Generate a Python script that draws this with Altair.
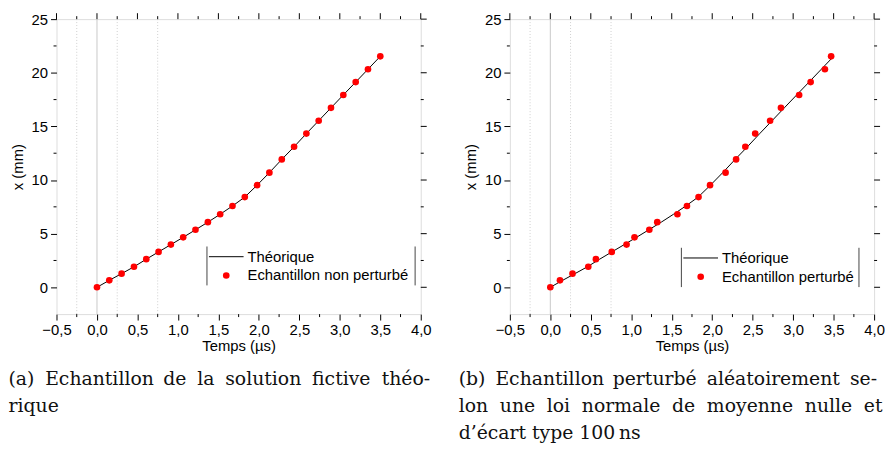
import altair as alt
import pandas as pd

# ---------------- data ----------------
t_theo = [0.000, 0.152, 0.304, 0.457, 0.609, 0.761, 0.913, 1.065, 1.217, 1.370,
          1.522, 1.674, 1.826, 1.978, 2.130, 2.283, 2.435, 2.587, 2.739, 2.891,
          3.043, 3.196, 3.348, 3.500]
x_theo = [0.00, 0.65, 1.27, 1.91, 2.62, 3.30, 3.98, 4.66, 5.36, 6.07,
          6.81, 7.58, 8.41, 9.52, 10.69, 11.92, 13.10, 14.33, 15.53, 16.73,
          17.93, 19.13, 20.33, 21.53]
t_pert = [0.000, 0.119, 0.274, 0.469, 0.563, 0.759, 0.942, 1.040, 1.223, 1.321,
          1.570, 1.688, 1.831, 1.973, 2.165, 2.295, 2.409, 2.531, 2.715, 2.849,
          3.074, 3.216, 3.392, 3.469]

x_major = [-0.5, 0.0, 0.5, 1.0, 1.5, 2.0, 2.5, 3.0, 3.5, 4.0]
x_minor = [-0.25, 0.25, 0.75, 1.25, 1.75, 2.25, 2.75, 3.25, 3.75]
y_major = [0, 5, 10, 15, 20, 25]
y_minor = [2.5, 7.5, 12.5, 17.5, 22.5]
grid_solid = [0.0]
grid_dotted = [-0.25, 0.25, 0.75]

legend_line = "Théorique"
legend_a = "Echantillon non perturbé"
legend_b = "Echantillon perturbé"
caption_a = ["(a) Echantillon de la solution fictive théo-", "rique"]
caption_b = ["(b) Echantillon perturbé aléatoirement se-",
             "lon une loi normale de moyenne nulle et",
             "d’écart type 100\u2009ns"]

W, H = 368, 298
SANS = "Liberation Sans"
SERIF = "DejaVu Serif"
FS = 15
CAP_FS = 19

# approximate DejaVu Serif advance widths (em) used to justify the caption lines
CW = {" ": .318, "(": .390, ")": .390, "a": .596, "b": .640, "c": .560, "d": .640, "e": .592,
      "é": .592, "f": .370, "h": .644, "i": .320, "l": .320, "m": .948, "n": .644, "o": .602,
      "p": .640, "r": .478, "s": .513, "t": .402, "u": .644, "v": .565, "y": .565, "E": .654,
      "-": .338}


def word_w(w):
    return sum(CW.get(c, .6) for c in w) * CAP_FS


def justify(line, x0, x1):
    words = line.split(" ")
    if len(words) == 1:
        return [(line, x0)]
    widths = [word_w(w) for w in words]
    gap = (x1 - x0 - sum(widths)) / (len(words) - 1)
    out, x = [], x0
    for w, wd in zip(words, widths):
        out.append((w, x))
        x += wd + gap
    return out


xscale = alt.Scale(domain=[-0.5, 4.0], nice=False, zero=False)
yscale = alt.Scale(domain=[-2.5, 25], nice=False, zero=False)
xaxis = alt.Axis(values=x_major, labelExpr="replace(format(datum.value, '.1f'), '.', ',')",
                 title="Temps (µs)", grid=False, domain=False, tickSize=6, tickColor="black",
                 labelFont=SANS, labelFontSize=FS, labelColor="black", labelPadding=3,
                 titleFont=SANS, titleFontSize=FS, titleFontWeight="normal", titleColor="black",
                 titlePadding=1, labelFlush=False, labelOverlap=False)
yaxis = alt.Axis(values=y_major, format="d", title="x (mm)", grid=False, domain=False,
                 tickSize=6, tickColor="black",
                 labelFont=SANS, labelFontSize=FS, labelColor="black", labelPadding=3,
                 titleFont=SANS, titleFontSize=FS, titleFontWeight="normal", titleColor="black",
                 titlePadding=6, labelFlush=False, labelOverlap=False)


def X(f):
    return alt.X(f, type="quantitative", scale=xscale, axis=xaxis)


def Y(f):
    return alt.Y(f, type="quantitative", scale=yscale, axis=yaxis)


one = pd.DataFrame({"k": [0]})


def panel(t_pts, legend_text, leg, captions, cap_x0, cap_x1):
    theo = pd.DataFrame({"t": t_theo, "x": x_theo})
    pts = pd.DataFrame({"t": t_pts, "x": x_theo})
    gs = pd.DataFrame({"g": grid_solid})
    gd = pd.DataFrame({"g": grid_dotted})
    xm = pd.DataFrame({"v": x_major})
    xn = pd.DataFrame({"v": x_minor})
    ym = pd.DataFrame({"v": y_major})
    yn = pd.DataFrame({"v": y_minor})

    layers = [
        alt.Chart(gs).mark_rule(color="#c8c8c8", strokeWidth=1).encode(x=X("g")),
        alt.Chart(gd).mark_rule(color="#cfcfcf", strokeWidth=1, strokeDash=[1, 2]).encode(x=X("g")),
        # minor ticks bottom / top, major top
        alt.Chart(xn).mark_rule(color="black").encode(x=X("v"), y=alt.value(H), y2=alt.value(H + 3)),
        alt.Chart(xn).mark_rule(color="black").encode(x=X("v"), y=alt.value(0), y2=alt.value(-3)),
        alt.Chart(xm).mark_rule(color="black").encode(x=X("v"), y=alt.value(0), y2=alt.value(-6)),
        # minor ticks left / right, major right
        alt.Chart(yn).mark_rule(color="black").encode(y=Y("v"), x=alt.value(0), x2=alt.value(-3)),
        alt.Chart(yn).mark_rule(color="black").encode(y=Y("v"), x=alt.value(W), x2=alt.value(W + 3)),
        alt.Chart(ym).mark_rule(color="black").encode(y=Y("v"), x=alt.value(W), x2=alt.value(W + 6)),
        # data
        alt.Chart(theo).mark_line(color="black", strokeWidth=1).encode(x=X("t"), y=Y("x")),
        alt.Chart(pts).mark_point(filled=True, color="#ff0000", opacity=1, size=45).encode(x=X("t"), y=Y("x")),
        # legend
        alt.Chart(one).mark_rule(color="#444", strokeWidth=1).encode(
            x=alt.value(leg["l"]), y=alt.value(leg["top"]), y2=alt.value(leg["bot"])),
        alt.Chart(one).mark_rule(color="#444", strokeWidth=1).encode(
            x=alt.value(leg["r"]), y=alt.value(leg["top"]), y2=alt.value(leg["bot"])),
        alt.Chart(one).mark_rule(color="black", strokeWidth=1).encode(
            x=alt.value(leg["l"] + 2), x2=alt.value(leg["l"] + 37), y=alt.value(leg["y1"])),
        alt.Chart(one).mark_point(filled=True, color="#ff0000", opacity=1, size=45).encode(
            x=alt.value(leg["l"] + 19.5), y=alt.value(leg["y2"])),
        alt.Chart(one).mark_text(align="left", baseline="middle", font=SANS, fontSize=FS, color="black").encode(
            x=alt.value(leg["l"] + 41), y=alt.value(leg["y1"]), text=alt.value(legend_line)),
        alt.Chart(one).mark_text(align="left", baseline="middle", font=SANS, fontSize=FS, color="black").encode(
            x=alt.value(leg["l"] + 41), y=alt.value(leg["y2"]), text=alt.value(legend_text)),
    ]
    base_y = 369.7
    n = len(captions)
    for i, line in enumerate(captions):
        if i < n - 1:
            placed = justify(line, cap_x0, cap_x1[i])
        else:
            placed = [(line, cap_x0)]
        for w, xp in placed:
            layers.append(
                alt.Chart(one).mark_text(align="left", baseline="alphabetic", font=SERIF, fontSize=CAP_FS,
                                         color="#111").encode(
                    x=alt.value(xp), y=alt.value(base_y + 27.3 * i), text=alt.value(w)))
    return alt.layer(*layers).properties(width=W, height=H)


pa = panel(t_theo, legend_a, {"l": 152, "r": 362.3, "top": 229.7, "bot": 269, "y1": 240, "y2": 259},
           caption_a, -48.5, [377.5])
pb = panel(t_pert, legend_b, {"l": 173.3, "r": 352.7, "top": 231, "bot": 270.7, "y1": 241.3, "y2": 260.3},
           caption_b, -51.7, [371, 376.5])

chart = alt.hconcat(pa, pb, spacing=90, bounds="flush").properties(
    padding={"left": 0, "top": 1, "right": 0, "bottom": 0}
).configure_view(stroke="black", strokeWidth=1).configure(background="white")

chart.save("out.html", embed_options={"renderer": "svg", "actions": False})
